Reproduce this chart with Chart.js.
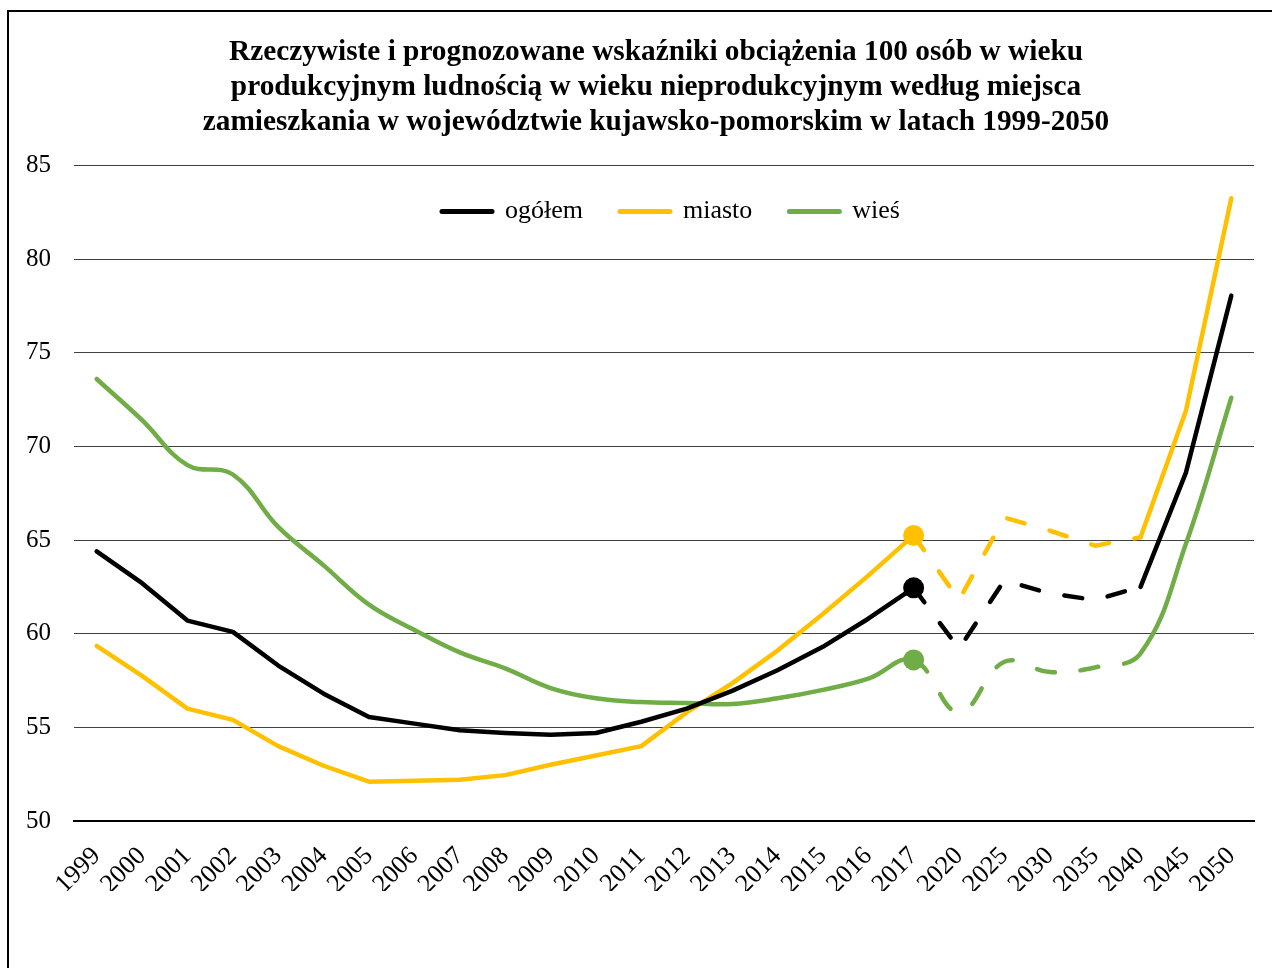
<!DOCTYPE html>
<html lang="pl">
<head>
<meta charset="utf-8">
<title>Wskaźniki obciążenia demograficznego</title>
<script src="https://cdn.jsdelivr.net/npm/chart.js@4.4.1/dist/chart.umd.min.js"></script>
<style>
    html, body { margin: 0; padding: 0; background: #fff; overflow: hidden; }
    #frame {
        position: absolute;
        left: 7px;
        top: 10px;
        border-left: 2px solid #000;
        border-top: 2px solid #000;
    }
    canvas { display: block; }
</style>
</head>
<body>
<div id="frame">
    <canvas id="chart" width="1294" height="1000"></canvas>
</div>
<script>
// Lata (kategorie osi X)
const years = ['1999', '2000', '2001', '2002', '2003', '2004', '2005', '2006', '2007', '2008',
    '2009', '2010', '2011', '2012', '2013', '2014', '2015', '2016', '2017',
    '2020', '2025', '2030', '2035', '2040', '2045', '2050'];

// Wartości
const ogolem = [64.4, 62.7, 60.7, 60.1, 58.3, 56.8, 55.55, 55.2, 54.85, 54.7,
    54.6, 54.7, 55.3, 56.0, 56.95, 58.05, 59.3, 60.8, 62.45,
    59.2, 62.85, 62.15, 61.8, 62.5, 68.6, 78.05];
const miasto = [59.35, 57.75, 56.0, 55.4, 54.0, 52.95, 52.1, 52.15, 52.2, 52.45,
    53.0, 53.5, 54.0, 55.8, 57.35, 59.1, 61.05, 63.1, 65.25,
    61.8, 66.2, 65.5, 64.7, 65.15, 71.9, 83.25];
const wies = [73.6, 71.4, 69.0, 68.5, 65.7, 63.65, 61.55, 60.2, 59.0, 58.15,
    57.1, 56.55, 56.35, 56.3, 56.25, 56.55, 57.0, 57.6, 58.6,
    55.8, 58.5, 57.95, 58.2, 58.95, 64.8, 72.6];

const yTicks = [50, 55, 60, 65, 70, 75, 80, 85];

const titleLines = [
    'Rzeczywiste i prognozowane wskaźniki obciążenia 100 osób w wieku',
    'produkcyjnym ludnością w wieku nieprodukcyjnym według miejsca',
    'zamieszkania w województwie kujawsko-pomorskim w latach 1999-2050'
];

const SERIF = "'Liberation Serif', 'Times New Roman', serif";
const markIdx = years.indexOf('2017');
const forecastEnd = years.indexOf('2040');

// prognoza (2017-2040) rysowana linią przerywaną
function forecastDash(ctx) {
    if (ctx.p0DataIndex >= markIdx && ctx.p1DataIndex <= forecastEnd) return [18, 26];
    return undefined;
}

function makeSeries(label, data, color, tension) {
    return {
        label: label,
        data: data,
        borderColor: color,
        backgroundColor: color,
        borderWidth: 4.5,
        borderCapStyle: 'round',
        borderJoinStyle: 'round',
        tension: tension,
        pointRadius: ctx => ctx.dataIndex === markIdx ? 10.5 : 0,
        pointBorderWidth: 0,
        pointBackgroundColor: color,
        segment: { borderDash: forecastDash }
    };
}

// legenda wewnątrz obszaru wykresu, tytuł lekko przesunięty w prawo (ramka wychodzi poza kadr)
const placeBoxes = {
    id: 'placeBoxes',
    afterLayout(chart) {
        const lg = chart.legend;
        const pad = lg.options.labels.padding;
        const h = pad * 2 + 34;
        lg.top = chart.chartArea.top + 33 - pad;
        lg.bottom = lg.top + h;
        lg.height = h;
        lg.left += 32;
        lg.right += 32;
        chart.titleBlock.left += 17;
        chart.titleBlock.right += 17;
    }
};

new Chart(document.getElementById('chart'), {
    type: 'line',
    data: {
        labels: years,
        datasets: [
            makeSeries('ogółem', ogolem, '#000000', 0),
            makeSeries('miasto', miasto, '#FFC000', 0),
            makeSeries('wieś', wies, '#70AD47', 0.4)
        ]
    },
    options: {
        responsive: false,
        animation: false,
        events: [],
        layout: { padding: { left: 15, right: 49, top: 0, bottom: 121 } },
        plugins: {
            title: {
                display: true,
                text: titleLines,
                color: '#000',
                font: { family: SERIF, size: 29.3, weight: 'bold', lineHeight: 1.2 },
                padding: { top: 23, bottom: 15 }
            },
            legend: {
                display: true,
                position: 'top',
                maxHeight: 10,
                labels: {
                    color: '#000',
                    font: { family: SERIF, size: 26 },
                    usePointStyle: true,
                    pointStyleWidth: 50,
                    boxHeight: 26,
                    padding: 37,
                    generateLabels(chart) {
                        return chart.data.datasets.map((ds, i) => ({
                            text: ds.label,
                            fillStyle: ds.borderColor,
                            strokeStyle: ds.borderColor,
                            fontColor: '#000',
                            lineWidth: 5,
                            lineCap: 'round',
                            pointStyle: 'line',
                            hidden: false,
                            datasetIndex: i
                        }));
                    }
                }
            },
            tooltip: { enabled: false }
        },
        scales: {
            x: {
                offset: true,
                grid: { display: false, drawTicks: false },
                border: { display: true, color: '#000', width: 2 },
                ticks: {
                    color: '#000',
                    font: { family: SERIF, size: 26 },
                    autoSkip: false,
                    maxRotation: 45,
                    minRotation: 45,
                    padding: 20
                },
                afterFit(scale) { scale.height = 70; }
            },
            y: {
                min: yTicks[0],
                max: yTicks[yTicks.length - 1],
                afterBuildTicks(scale) { scale.ticks = yTicks.map(v => ({ value: v })); },
                grid: { color: '#404040', lineWidth: 1, drawTicks: false },
                border: { display: false },
                ticks: {
                    color: '#000',
                    font: { family: SERIF, size: 25 },
                    padding: 23
                },
                afterFit(scale) { scale.width = 50; }
            }
        }
    },
    plugins: [placeBoxes]
});
</script>
</body>
</html>
